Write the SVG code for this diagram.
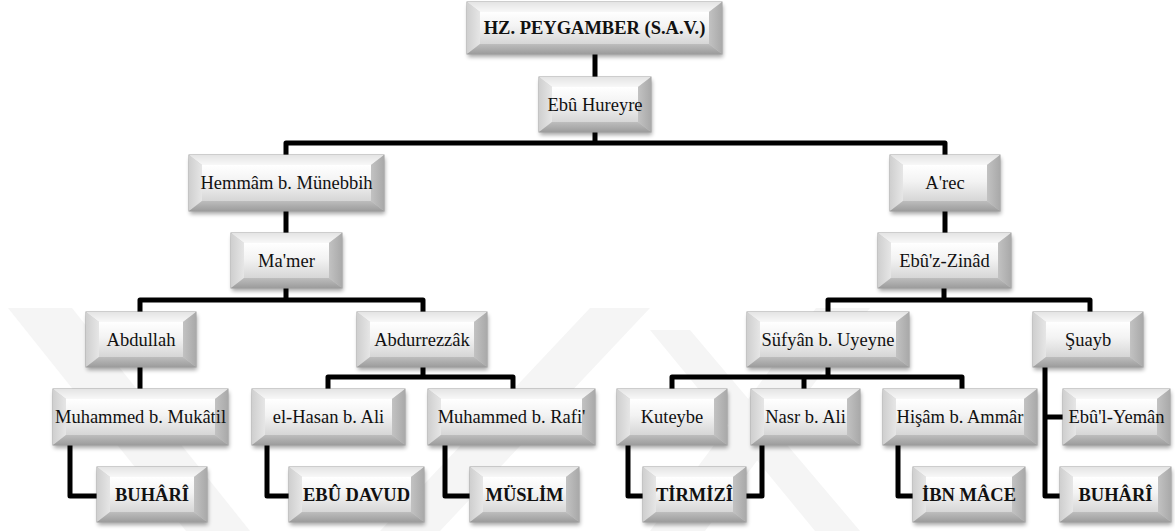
<svg xmlns="http://www.w3.org/2000/svg" width="1175" height="531" viewBox="0 0 1175 531">
<defs>
<style>
.wm{fill:#f5f5f5}
.cn{fill:none;stroke:#000;stroke-width:5;stroke-linejoin:round;stroke-linecap:butt}
.sh{fill:#000;opacity:.35;filter:url(#blur)}
.ob{fill:#cfcfcf;stroke:#a0a0a0;stroke-width:1}
.bt{fill:url(#gTop)}
.bl{fill:url(#gLeft)}
.br{fill:url(#gRight)}
.bb{fill:url(#gBot)}
.fc{fill:url(#gFace)}
.t{font-family:"Liberation Serif","Times New Roman",serif;font-size:18.5px;fill:#111;text-anchor:middle}
.b{font-weight:bold}
</style>
<filter id="blur" x="-20%" y="-40%" width="140%" height="180%"><feGaussianBlur stdDeviation="2"/></filter>
<linearGradient id="gTop" x1="0" y1="0" x2="0" y2="1"><stop offset="0" stop-color="#e4e4e4"/><stop offset="1" stop-color="#f8f8f8"/></linearGradient>
<linearGradient id="gLeft" x1="0" y1="0" x2="1" y2="0"><stop offset="0" stop-color="#cfcfcf"/><stop offset="1" stop-color="#e6e6e6"/></linearGradient>
<linearGradient id="gRight" x1="0" y1="0" x2="1" y2="0"><stop offset="0" stop-color="#c2c2c2"/><stop offset="1" stop-color="#a9a9a9"/></linearGradient>
<linearGradient id="gBot" x1="0" y1="0" x2="0" y2="1"><stop offset="0" stop-color="#bdbdbd"/><stop offset="1" stop-color="#9c9c9c"/></linearGradient>
<linearGradient id="gFace" x1="0" y1="0" x2="0" y2="1"><stop offset="0" stop-color="#ffffff"/><stop offset=".45" stop-color="#f3f3f3"/><stop offset="1" stop-color="#d6d6d6"/></linearGradient>
</defs>
<rect width="1175" height="531" fill="#fff"/>
<g id="watermark">
<polygon class="wm" points="8,308 72,308 250,531 186,531"/>
<polygon class="wm" points="590,308 650,308 440,531 380,531"/>
<polygon class="wm" points="816,308 870,308 705,531 650,531"/>
<polygon class="wm" points="650,330 690,330 860,531 815,531"/>
</g>
<g id="connectors">
<path class="cn" d="M595,54 V77"/>
<path class="cn" d="M595,132 V143 M286,155 V143 H945 V155"/>
<path class="cn" d="M286,211 V233"/>
<path class="cn" d="M945,211 V233"/>
<path class="cn" d="M286,288 V300 M140,312 V300 H423 V312"/>
<path class="cn" d="M944,288 V300 M828,312 V300 H1090 V312"/>
<path class="cn" d="M140,367 V389"/>
<path class="cn" d="M423,367 V377 M328,389 V377 H513 V389"/>
<path class="cn" d="M828,367 V377 M672,389 V377 H962 V389 M804,377 V389"/>
<path class="cn" d="M70,445 V496 H97"/>
<path class="cn" d="M267,445 V496 H289"/>
<path class="cn" d="M445,445 V496 H470"/>
<path class="cn" d="M628,445 V496 H643"/>
<path class="cn" d="M762,445 V496 H746"/>
<path class="cn" d="M898,445 V496 H913"/>
<path class="cn" d="M1045,367 V496 H1060 M1045,417 H1063"/>
</g>
<g id="n-peygamber" transform="translate(467,2)"><rect class="sh" x="1" y="3" width="255" height="52"/><rect class="ob" width="255" height="52"/><polygon class="bt" points="0,0 255,0 242,10 13,10"/><polygon class="bl" points="0,0 13,10 13,42 0,52"/><polygon class="br" points="255,0 255,52 242,42 242,10"/><polygon class="bb" points="0,52 13,42 242,42 255,52"/><rect class="fc" x="13" y="10" width="229" height="32"/><text class="t b" x="127.5" y="32">HZ. PEYGAMBER (S.A.V.)</text></g>
<g id="n-ebuhureyre" transform="translate(539,77)"><rect class="sh" x="1" y="3" width="112" height="55"/><rect class="ob" width="112" height="55"/><polygon class="bt" points="0,0 112,0 99,10 13,10"/><polygon class="bl" points="0,0 13,10 13,45 0,55"/><polygon class="br" points="112,0 112,55 99,45 99,10"/><polygon class="bb" points="0,55 13,45 99,45 112,55"/><rect class="fc" x="13" y="10" width="86" height="35"/><text class="t" x="56" y="33.5">Ebû Hureyre</text></g>
<g id="n-hemmam" transform="translate(189,155)"><rect class="sh" x="1" y="3" width="195" height="56"/><rect class="ob" width="195" height="56"/><polygon class="bt" points="0,0 195,0 182,10 13,10"/><polygon class="bl" points="0,0 13,10 13,46 0,56"/><polygon class="br" points="195,0 195,56 182,46 182,10"/><polygon class="bb" points="0,56 13,46 182,46 195,56"/><rect class="fc" x="13" y="10" width="169" height="36"/><text class="t" x="97.5" y="34">Hemmâm b. Münebbih</text></g>
<g id="n-arec" transform="translate(890,155)"><rect class="sh" x="1" y="3" width="110" height="56"/><rect class="ob" width="110" height="56"/><polygon class="bt" points="0,0 110,0 97,10 13,10"/><polygon class="bl" points="0,0 13,10 13,46 0,56"/><polygon class="br" points="110,0 110,56 97,46 97,10"/><polygon class="bb" points="0,56 13,46 97,46 110,56"/><rect class="fc" x="13" y="10" width="84" height="36"/><text class="t" x="55" y="34">A'rec</text></g>
<g id="n-mamer" transform="translate(231,233)"><rect class="sh" x="1" y="3" width="111" height="55"/><rect class="ob" width="111" height="55"/><polygon class="bt" points="0,0 111,0 98,10 13,10"/><polygon class="bl" points="0,0 13,10 13,45 0,55"/><polygon class="br" points="111,0 111,55 98,45 98,10"/><polygon class="bb" points="0,55 13,45 98,45 111,55"/><rect class="fc" x="13" y="10" width="85" height="35"/><text class="t" x="55.5" y="33.5">Ma'mer</text></g>
<g id="n-ebuzzinad" transform="translate(878,233)"><rect class="sh" x="1" y="3" width="133" height="55"/><rect class="ob" width="133" height="55"/><polygon class="bt" points="0,0 133,0 120,10 13,10"/><polygon class="bl" points="0,0 13,10 13,45 0,55"/><polygon class="br" points="133,0 133,55 120,45 120,10"/><polygon class="bb" points="0,55 13,45 120,45 133,55"/><rect class="fc" x="13" y="10" width="107" height="35"/><text class="t" x="66.5" y="33.5">Ebû'z-Zinâd</text></g>
<g id="n-abdullah" transform="translate(86,312)"><rect class="sh" x="1" y="3" width="110" height="55"/><rect class="ob" width="110" height="55"/><polygon class="bt" points="0,0 110,0 97,10 13,10"/><polygon class="bl" points="0,0 13,10 13,45 0,55"/><polygon class="br" points="110,0 110,55 97,45 97,10"/><polygon class="bb" points="0,55 13,45 97,45 110,55"/><rect class="fc" x="13" y="10" width="84" height="35"/><text class="t" x="55" y="33.5">Abdullah</text></g>
<g id="n-abdurrezzak" transform="translate(357,312)"><rect class="sh" x="1" y="3" width="130" height="55"/><rect class="ob" width="130" height="55"/><polygon class="bt" points="0,0 130,0 117,10 13,10"/><polygon class="bl" points="0,0 13,10 13,45 0,55"/><polygon class="br" points="130,0 130,55 117,45 117,10"/><polygon class="bb" points="0,55 13,45 117,45 130,55"/><rect class="fc" x="13" y="10" width="104" height="35"/><text class="t" x="65" y="33.5">Abdurrezzâk</text></g>
<g id="n-sufyan" transform="translate(747,312)"><rect class="sh" x="1" y="3" width="162" height="55"/><rect class="ob" width="162" height="55"/><polygon class="bt" points="0,0 162,0 149,10 13,10"/><polygon class="bl" points="0,0 13,10 13,45 0,55"/><polygon class="br" points="162,0 162,55 149,45 149,10"/><polygon class="bb" points="0,55 13,45 149,45 162,55"/><rect class="fc" x="13" y="10" width="136" height="35"/><text class="t" x="81" y="33.5">Süfyân b. Uyeyne</text></g>
<g id="n-suayb" transform="translate(1033,312)"><rect class="sh" x="1" y="3" width="110" height="55"/><rect class="ob" width="110" height="55"/><polygon class="bt" points="0,0 110,0 97,10 13,10"/><polygon class="bl" points="0,0 13,10 13,45 0,55"/><polygon class="br" points="110,0 110,55 97,45 97,10"/><polygon class="bb" points="0,55 13,45 97,45 110,55"/><rect class="fc" x="13" y="10" width="84" height="35"/><text class="t" x="55" y="33.5">Şuayb</text></g>
<g id="n-mukatil" transform="translate(53,389)"><rect class="sh" x="1" y="3" width="175" height="56"/><rect class="ob" width="175" height="56"/><polygon class="bt" points="0,0 175,0 162,10 13,10"/><polygon class="bl" points="0,0 13,10 13,46 0,56"/><polygon class="br" points="175,0 175,56 162,46 162,10"/><polygon class="bb" points="0,56 13,46 162,46 175,56"/><rect class="fc" x="13" y="10" width="149" height="36"/><text class="t" x="87.5" y="34">Muhammed b. Mukâtil</text></g>
<g id="n-hasan" transform="translate(252,389)"><rect class="sh" x="1" y="3" width="153" height="56"/><rect class="ob" width="153" height="56"/><polygon class="bt" points="0,0 153,0 140,10 13,10"/><polygon class="bl" points="0,0 13,10 13,46 0,56"/><polygon class="br" points="153,0 153,56 140,46 140,10"/><polygon class="bb" points="0,56 13,46 140,46 153,56"/><rect class="fc" x="13" y="10" width="127" height="36"/><text class="t" x="76.5" y="34">el-Hasan b. Ali</text></g>
<g id="n-rafi" transform="translate(428,389)"><rect class="sh" x="1" y="3" width="167" height="56"/><rect class="ob" width="167" height="56"/><polygon class="bt" points="0,0 167,0 154,10 13,10"/><polygon class="bl" points="0,0 13,10 13,46 0,56"/><polygon class="br" points="167,0 167,56 154,46 154,10"/><polygon class="bb" points="0,56 13,46 154,46 167,56"/><rect class="fc" x="13" y="10" width="141" height="36"/><text class="t" x="83.5" y="34">Muhammed b. Rafi'</text></g>
<g id="n-kuteybe" transform="translate(617,389)"><rect class="sh" x="1" y="3" width="110" height="56"/><rect class="ob" width="110" height="56"/><polygon class="bt" points="0,0 110,0 97,10 13,10"/><polygon class="bl" points="0,0 13,10 13,46 0,56"/><polygon class="br" points="110,0 110,56 97,46 97,10"/><polygon class="bb" points="0,56 13,46 97,46 110,56"/><rect class="fc" x="13" y="10" width="84" height="36"/><text class="t" x="55" y="34">Kuteybe</text></g>
<g id="n-nasr" transform="translate(751,389)"><rect class="sh" x="1" y="3" width="109" height="56"/><rect class="ob" width="109" height="56"/><polygon class="bt" points="0,0 109,0 96,10 13,10"/><polygon class="bl" points="0,0 13,10 13,46 0,56"/><polygon class="br" points="109,0 109,56 96,46 96,10"/><polygon class="bb" points="0,56 13,46 96,46 109,56"/><rect class="fc" x="13" y="10" width="83" height="36"/><text class="t" x="54.5" y="34">Nasr b. Ali</text></g>
<g id="n-hisam" transform="translate(883,389)"><rect class="sh" x="1" y="3" width="154" height="56"/><rect class="ob" width="154" height="56"/><polygon class="bt" points="0,0 154,0 141,10 13,10"/><polygon class="bl" points="0,0 13,10 13,46 0,56"/><polygon class="br" points="154,0 154,56 141,46 141,10"/><polygon class="bb" points="0,56 13,46 141,46 154,56"/><rect class="fc" x="13" y="10" width="128" height="36"/><text class="t" x="77" y="34">Hişâm b. Ammâr</text></g>
<g id="n-ebulyeman" transform="translate(1063,389)"><rect class="sh" x="1" y="3" width="107" height="56"/><rect class="ob" width="107" height="56"/><polygon class="bt" points="0,0 107,0 94,10 13,10"/><polygon class="bl" points="0,0 13,10 13,46 0,56"/><polygon class="br" points="107,0 107,56 94,46 94,10"/><polygon class="bb" points="0,56 13,46 94,46 107,56"/><rect class="fc" x="13" y="10" width="81" height="36"/><text class="t" x="53.5" y="34">Ebû'l-Yemân</text></g>
<g id="n-buhari1" transform="translate(97,467)"><rect class="sh" x="1" y="3" width="110" height="55"/><rect class="ob" width="110" height="55"/><polygon class="bt" points="0,0 110,0 97,10 13,10"/><polygon class="bl" points="0,0 13,10 13,45 0,55"/><polygon class="br" points="110,0 110,55 97,45 97,10"/><polygon class="bb" points="0,55 13,45 97,45 110,55"/><rect class="fc" x="13" y="10" width="84" height="35"/><text class="t b" x="55" y="33.5">BUHÂRÎ</text></g>
<g id="n-ebudavud" transform="translate(289,467)"><rect class="sh" x="1" y="3" width="135" height="55"/><rect class="ob" width="135" height="55"/><polygon class="bt" points="0,0 135,0 122,10 13,10"/><polygon class="bl" points="0,0 13,10 13,45 0,55"/><polygon class="br" points="135,0 135,55 122,45 122,10"/><polygon class="bb" points="0,55 13,45 122,45 135,55"/><rect class="fc" x="13" y="10" width="109" height="35"/><text class="t b" x="67.5" y="33.5">EBÛ DAVUD</text></g>
<g id="n-muslim" transform="translate(470,467)"><rect class="sh" x="1" y="3" width="109" height="55"/><rect class="ob" width="109" height="55"/><polygon class="bt" points="0,0 109,0 96,10 13,10"/><polygon class="bl" points="0,0 13,10 13,45 0,55"/><polygon class="br" points="109,0 109,55 96,45 96,10"/><polygon class="bb" points="0,55 13,45 96,45 109,55"/><rect class="fc" x="13" y="10" width="83" height="35"/><text class="t b" x="54.5" y="33.5">MÜSLİM</text></g>
<g id="n-tirmizi" transform="translate(643,467)"><rect class="sh" x="1" y="3" width="103" height="55"/><rect class="ob" width="103" height="55"/><polygon class="bt" points="0,0 103,0 90,10 13,10"/><polygon class="bl" points="0,0 13,10 13,45 0,55"/><polygon class="br" points="103,0 103,55 90,45 90,10"/><polygon class="bb" points="0,55 13,45 90,45 103,55"/><rect class="fc" x="13" y="10" width="77" height="35"/><text class="t b" x="51.5" y="33.5">TİRMİZÎ</text></g>
<g id="n-ibnmace" transform="translate(913,467)"><rect class="sh" x="1" y="3" width="112" height="55"/><rect class="ob" width="112" height="55"/><polygon class="bt" points="0,0 112,0 99,10 13,10"/><polygon class="bl" points="0,0 13,10 13,45 0,55"/><polygon class="br" points="112,0 112,55 99,45 99,10"/><polygon class="bb" points="0,55 13,45 99,45 112,55"/><rect class="fc" x="13" y="10" width="86" height="35"/><text class="t b" x="56" y="33.5">İBN MÂCE</text></g>
<g id="n-buhari2" transform="translate(1060,467)"><rect class="sh" x="1" y="3" width="111" height="55"/><rect class="ob" width="111" height="55"/><polygon class="bt" points="0,0 111,0 98,10 13,10"/><polygon class="bl" points="0,0 13,10 13,45 0,55"/><polygon class="br" points="111,0 111,55 98,45 98,10"/><polygon class="bb" points="0,55 13,45 98,45 111,55"/><rect class="fc" x="13" y="10" width="85" height="35"/><text class="t b" x="55.5" y="33.5">BUHÂRÎ</text></g>
</svg>
